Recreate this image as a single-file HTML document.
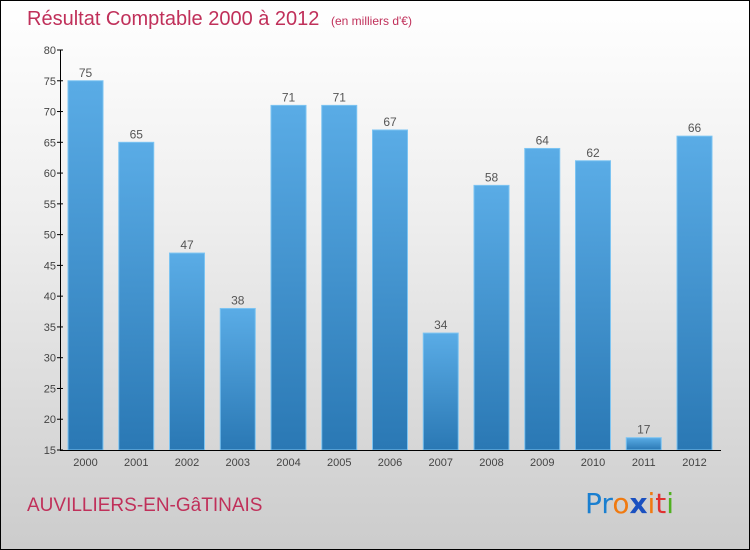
<!DOCTYPE html>
<html><head><meta charset="utf-8"><style>
body{margin:0;}
#wrap{position:relative;width:748px;height:548px;border:1px solid #000;background:linear-gradient(#fff 0%,#eee 40%,#ccc 100%);font-family:"Liberation Sans",sans-serif;overflow:hidden}
.t{position:absolute;white-space:nowrap}
</style></head><body>
<div id="wrap">
<div class="t" style="left:26px;top:7px;font-size:20px;color:#c0305a;">Résultat Comptable 2000 à 2012 <span style="font-size:12px;margin-left:6px;color:#c0305a">(en milliers d'€)</span></div>
<div class="t" style="left:26px;top:494px;font-size:19px;color:#c0305a;letter-spacing:0px">AUVILLIERS-EN-GâTINAIS</div>
<div class="t" style="left:584px;top:486px;font-size:28px;font-family:'DejaVu Sans',sans-serif;letter-spacing:0px"><span style="color:#1a7fd0">P</span><span style="color:#1a7fd0">r</span><span style="color:#f07a10">o</span><span style="color:#1a50c0;font-weight:bold">x</span><span style="color:#f07a10">i</span><span style="color:#e03030">t</span><span style="color:#50b020">i</span></div>
<svg id="chart" width="748" height="548" style="position:absolute;left:0;top:0">
<defs><linearGradient id="g" x1="0" y1="0" x2="0" y2="1"><stop offset="0" stop-color="#5aace6"/><stop offset="1" stop-color="#2a78b4"/></linearGradient></defs>
</svg>
</div>
<script>
const years=["2000","2001","2002","2003","2004","2005","2006","2007","2008","2009","2010","2011","2012"];
const values=[75,65,47,38,71,71,67,34,58,64,62,17,66];
const yTicks=[15,20,25,30,35,40,45,50,55,60,65,70,75,80];
const svg=document.getElementById('chart');
const NS='http://www.w3.org/2000/svg';
const y0=449,y1=49,vmin=15,vmax=80;
function y(v){return y0-(v-vmin)/(vmax-vmin)*(y0-y1);}
function x(i){return 67+i*50.75;}
const bw=35;
function mk(t,a){const e=document.createElementNS(NS,t);for(const k in a)e.setAttribute(k,a[k]);svg.appendChild(e);return e;}
values.forEach((v,i)=>{
 const r=mk('rect',{x:x(i),y:y(v),width:bw,height:y0-y(v),fill:'url(#g)',stroke:'#7cc4f2','stroke-width':1});
 
 
 const l=mk('text',{x:x(i)+bw/2,y:y(v)-4,'text-anchor':'middle','font-size':12,fill:'#555','font-family':'Liberation Sans'});
 l.textContent=v;
 
 
 const xl=mk('text',{x:x(i)+bw/2,y:465,'text-anchor':'middle','font-size':11,fill:'#444','font-family':'Liberation Sans'});
 xl.textContent=years[i];
 
 
});
yTicks.forEach(t=>{
 const tk=mk('line',{x1:56,x2:62,y1:y(t),y2:y(t),stroke:'#000'});
 
 
 const tl=mk('text',{x:55,y:y(t)+4,'text-anchor':'end','font-size':11,fill:'#444','font-family':'Liberation Sans'});
 tl.textContent=t;
 
 
});
const ya=mk('line',{x1:59.5,x2:59.5,y1:y1,y2:y0,stroke:'#000'});


const xa=mk('line',{x1:59,x2:720,y1:y0+0.5,y2:y0+0.5,stroke:'#000'});


</script>
</body></html>
